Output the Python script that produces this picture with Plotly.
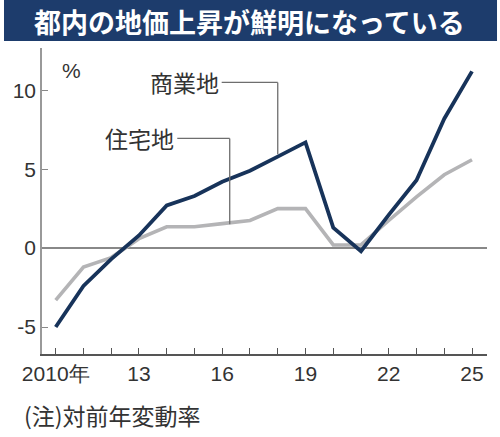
import plotly.graph_objects as go

years = list(range(2010, 2026))
commercial = [-5.0, -2.4, -0.7, 0.8, 2.7, 3.3, 4.2, 4.9, 5.8, 6.7, 1.3, -0.2, 2.1, 4.3, 8.2, 11.2]
residential = [-3.3, -1.2, -0.6, 0.6, 1.35, 1.35, 1.55, 1.75, 2.5, 2.5, 0.2, 0.2, 1.75, 3.25, 4.65, 5.6]
tick_vals = [2010, 2013, 2016, 2019, 2022, 2025]
tick_text = ["2010年", "13", "16", "19", "22", "25"]
y_ticks = [-5, 0, 5, 10]

title = "都内の地価上昇が鮮明になっている"
note = "(注)対前年変動率"
label_com = "商業地"
label_res = "住宅地"

NAVY = "#17335a"
GRAY = "#b4b4b6"
CJK = "Noto Sans CJK JP"
NUM = "Liberation Sans, Arial, sans-serif"

fig = go.Figure()
fig.add_trace(go.Scatter(x=years, y=residential, mode="lines",
                         line=dict(color=GRAY, width=3.6), hoverinfo="skip"))
fig.add_trace(go.Scatter(x=years, y=commercial, mode="lines",
                         line=dict(color=NAVY, width=3.8), hoverinfo="skip"))

def interp(series, x):
    i = int(x) - 2010
    f = x - int(x)
    return series[i] + (series[i + 1] - series[i]) * f

# leader lines
LC = "#6e6e6e"
com_x, com_y = 2018.0, 10.5
res_x, res_y = 2016.27, 6.95
fig.add_shape(type="line", x0=2015.98, x1=com_x, y0=com_y, y1=com_y, line=dict(color=LC, width=1.3))
fig.add_shape(type="line", x0=com_x, x1=com_x, y0=com_y, y1=interp(commercial, com_x) + 0.15, line=dict(color=LC, width=1.3))
fig.add_shape(type="line", x0=2014.38, x1=res_x, y0=res_y, y1=res_y, line=dict(color=LC, width=1.3))
fig.add_shape(type="line", x0=res_x, x1=res_x, y0=res_y, y1=interp(residential, res_x) - 0.1, line=dict(color=LC, width=1.3))

fig.add_annotation(x=2015.98, y=com_y, text=label_com, showarrow=False, xanchor="right", yanchor="middle",
                   font=dict(family=CJK, size=23, color="#333"), xshift=-1)
fig.add_annotation(x=2014.38, y=res_y, text=label_res, showarrow=False, xanchor="right", yanchor="middle",
                   font=dict(family=CJK, size=23, color="#333"), xshift=-1)

# banner
fig.add_shape(type="rect", xref="paper", yref="paper", x0=-0.0854, x1=1.0225, y0=1.023, y1=1.157,
              fillcolor="#1d3c6c", line=dict(width=0), layer="above")
fig.add_annotation(xref="paper", yref="paper", x=0.467, y=1.088, text="<b>" + title + "</b>", showarrow=False,
                   xanchor="center", yanchor="middle", font=dict(family=CJK, size=27, color="white"))
fig.add_annotation(xref="paper", yref="paper", x=0.0674, y=0.928, text="%", showarrow=False,
                   xanchor="center", yanchor="middle", font=dict(family=NUM, size=21, color="#333"))
fig.add_annotation(xref="paper", yref="paper", x=-0.045, y=-0.199, text=note, showarrow=False,
                   xanchor="left", yanchor="middle", font=dict(family=CJK, size=23, color="#333"))

fig.update_layout(
    width=500, height=437,
    margin=dict(l=42, r=13, t=48, b=83, autoexpand=False),
    plot_bgcolor="white", paper_bgcolor="white",
    showlegend=False,
    xaxis=dict(range=[2009.506, 2025.54], tickmode="array", tickvals=years,
               ticktext=[tick_text[tick_vals.index(y)] if y in tick_vals else "" for y in years],
               ticks="inside", ticklen=6, tickcolor="#555", tickwidth=1.2,
               showline=True, linecolor="#555", linewidth=1.5, showgrid=False, zeroline=False,
               tickfont=dict(family=NUM, size=21, color="#333")),
    yaxis=dict(range=[-6.71, 12.68], tickmode="array", tickvals=y_ticks, ticktext=[str(v) for v in y_ticks],
               ticks="inside", ticklen=6, tickcolor="#888", tickwidth=1.2,
               showline=True, linecolor="#999", linewidth=1.5, showgrid=False,
               zeroline=True, zerolinecolor="#888", zerolinewidth=1.5,
               tickfont=dict(family=NUM, size=21, color="#333")),
)

fig.write_html("out.html", config={"displayModeBar": False},
               post_script="document.body.style.margin='0px';")
